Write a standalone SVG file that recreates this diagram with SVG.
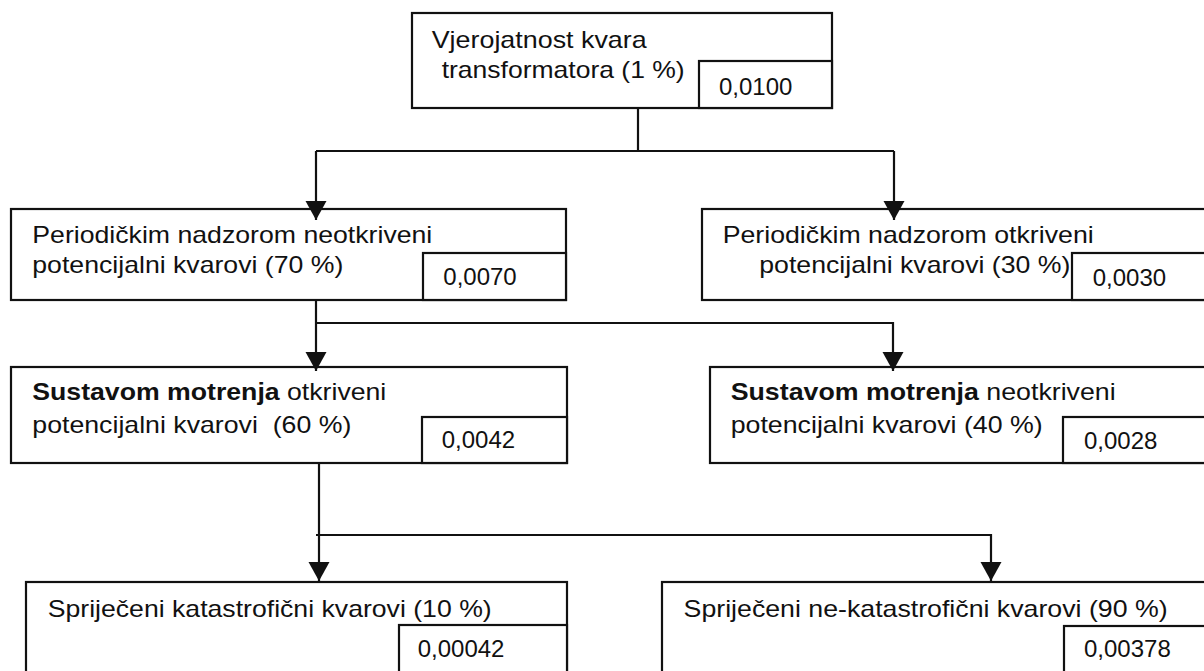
<svg xmlns="http://www.w3.org/2000/svg" width="1204" height="671" viewBox="0 0 1204 671">
<style>
  .box{fill:#fff;stroke:#111;stroke-width:2.2}
  .lbl{font-family:"Liberation Sans",Arial,Helvetica,sans-serif;font-size:24px;fill:#111}
  .val{font-family:"Liberation Sans",Arial,Helvetica,sans-serif;font-size:24px;fill:#111}
  .b{font-weight:bold}
  .con{fill:none;stroke:#111;stroke-width:2.2}
</style>
<defs>
  <marker id="arr" markerUnits="userSpaceOnUse" markerWidth="20" markerHeight="22" refX="19" refY="10.5" orient="auto">
    <path d="M0,0 L19,10.5 L0,21 Z" fill="#111"/>
  </marker>
</defs>
<rect width="1204" height="671" fill="#fff"/>

<g id="n0">
  <rect class="box" x="412" y="13" width="420" height="95"/>
  <rect class="box" x="699" y="61" width="133" height="47"/>
  <text class="lbl" x="431.7" y="48" textLength="215" lengthAdjust="spacingAndGlyphs">Vjerojatnost kvara</text>
  <text class="lbl" x="441.7" y="78" textLength="243" lengthAdjust="spacingAndGlyphs">transformatora (1 %)</text>
  <text class="val" x="719" y="95">0,0100</text>
</g>

<g id="n1">
  <rect class="box" x="11" y="209" width="555" height="91"/>
  <rect class="box" x="423" y="253" width="143" height="47"/>
  <text class="lbl" x="32.3" y="243" textLength="400" lengthAdjust="spacingAndGlyphs">Periodičkim nadzorom neotkriveni</text>
  <text class="lbl" x="32.3" y="273" textLength="311" lengthAdjust="spacingAndGlyphs">potencijalni kvarovi (70 %)</text>
  <text class="val" x="443.3" y="285">0,0070</text>
</g>

<g id="n2">
  <rect class="box" x="702" y="209" width="510" height="91"/>
  <rect class="box" x="1072" y="253" width="140" height="47"/>
  <text class="lbl" x="722.7" y="243" textLength="371" lengthAdjust="spacingAndGlyphs">Periodičkim nadzorom otkriveni</text>
  <text class="lbl" x="759.3" y="273" textLength="311" lengthAdjust="spacingAndGlyphs">potencijalni kvarovi (30 %)</text>
  <text class="val" x="1092.7" y="286">0,0030</text>
</g>

<g id="n3">
  <rect class="box" x="11" y="367" width="556" height="96"/>
  <rect class="box" x="422" y="417" width="145" height="46"/>
  <text class="lbl" x="32.3" y="400" textLength="354" lengthAdjust="spacingAndGlyphs"><tspan class="b">Sustavom motrenja</tspan> otkriveni</text>
  <text class="lbl" x="32.3" y="433" textLength="319" lengthAdjust="spacingAndGlyphs" xml:space="preserve">potencijalni kvarovi  (60 %)</text>
  <text class="val" x="441.7" y="448">0,0042</text>
</g>

<g id="n4">
  <rect class="box" x="710" y="367" width="502" height="96"/>
  <rect class="box" x="1063" y="417" width="149" height="46"/>
  <text class="lbl" x="730.7" y="400" textLength="385" lengthAdjust="spacingAndGlyphs"><tspan class="b">Sustavom motrenja</tspan> neotkriveni</text>
  <text class="lbl" x="730.7" y="433" textLength="312" lengthAdjust="spacingAndGlyphs">potencijalni kvarovi (40 %)</text>
  <text class="val" x="1084" y="449">0,0028</text>
</g>

<g id="n5">
  <rect class="box" x="26" y="582" width="541" height="100"/>
  <rect class="box" x="399" y="625" width="168" height="57"/>
  <text class="lbl" x="47.7" y="617" textLength="444" lengthAdjust="spacingAndGlyphs">Spriječeni katastrofični kvarovi (10 %)</text>
  <text class="val" x="417.7" y="657">0,00042</text>
</g>

<g id="n6">
  <rect class="box" x="662" y="582" width="550" height="100"/>
  <rect class="box" x="1064" y="626" width="148" height="56"/>
  <text class="lbl" x="683.6" y="617" textLength="484" lengthAdjust="spacingAndGlyphs">Spriječeni ne-katastrofični kvarovi (90 %)</text>
  <text class="val" x="1084" y="657">0,00378</text>
</g>

<g id="connectors">
  <path class="con" d="M638,108 V151"/>
  <path class="con" d="M316,151 H894"/>
  <path class="con" d="M316,151 V220" marker-end="url(#arr)"/>
  <path class="con" d="M894,151 V220" marker-end="url(#arr)"/>
  <path class="con" d="M316,300 V371" marker-end="url(#arr)"/>
  <path class="con" d="M316,323 H893 V371" marker-end="url(#arr)"/>
  <path class="con" d="M319,463 V581" marker-end="url(#arr)"/>
  <path class="con" d="M316,535 H991 V581" marker-end="url(#arr)"/>
</g>
</svg>
